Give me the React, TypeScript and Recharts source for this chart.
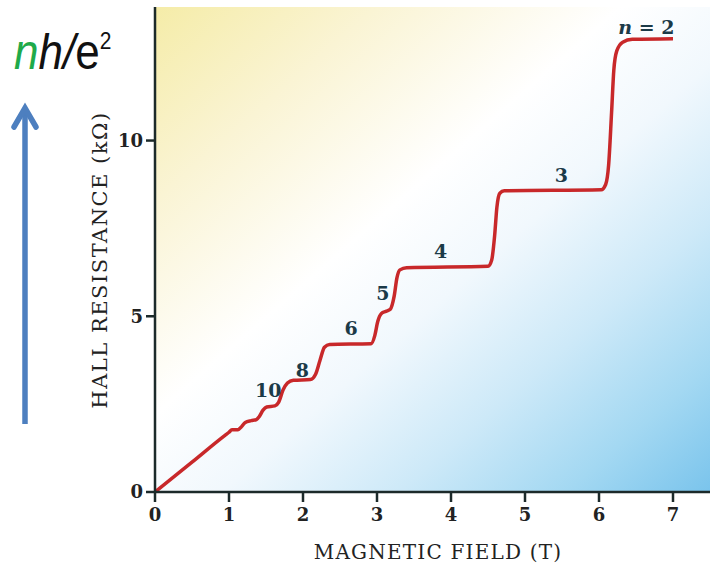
import React from 'react'
import {
  ComposedChart,
  Line,
  Scatter,
  XAxis,
  YAxis,
  ReferenceArea
} from 'recharts'

// Hall resistance (kΩ) against magnetic field (T)
const fieldT = [
  0, 0.5, 0.95, 1.0, 1.04, 1.08, 1.12, 1.17, 1.22, 1.3, 1.37, 1.41, 1.46, 1.51, 1.62, 1.67, 1.73, 1.79,
  1.87, 2.1, 2.17, 2.23, 2.29, 2.36, 2.92, 2.97, 3.01, 3.06, 3.12, 3.18, 3.23, 3.27, 3.31,
  3.4, 4.5, 4.55, 4.59, 4.62, 4.66, 4.72, 6.03, 6.09, 6.13, 6.17, 6.2, 6.24, 6.32, 6.45, 7.0
]
const hallKOhm = [
  0, 0.85, 1.62, 1.7, 1.77, 1.77, 1.77, 1.86, 1.98, 2.03, 2.06, 2.15, 2.33, 2.42, 2.45, 2.55, 2.9, 3.1,
  3.18, 3.2, 3.35, 3.75, 4.12, 4.2, 4.22, 4.45, 4.85, 5.08, 5.14, 5.2, 5.55, 6.1, 6.32,
  6.38, 6.42, 6.6, 7.3, 8.1, 8.5, 8.57, 8.6, 8.75, 9.3, 10.8, 12.0, 12.55, 12.8, 12.88, 12.9
]

// plateau labels (filling factor n)
const plateauNames = ['10', '8', '6', '5', '4', '3', 'n = 2']
const plateauB = [1.53, 1.99, 2.65, 3.08, 3.86, 5.49, 6.64]
const plateauR = [2.9, 3.48, 4.68, 5.67, 6.87, 9.02, 13.22]

const xTicks = [0, 1, 2, 3, 4, 5, 6, 7]
const yTicks = [0, 5, 10]

const curve = fieldT.map((b, i) => ({ b, r: hallKOhm[i] }))
const plateaus = plateauNames.map((name, i) => ({ b: plateauB[i], r: plateauR[i], name }))

const axisColor = '#1c2a2a'
const tickFont = { fontFamily: '"DejaVu Serif", serif', fontWeight: 700, fontSize: 18, fill: '#222' }

const PlateauLabel = (props: any) => {
  const { cx, cy, payload } = props
  const isTop = payload.name.startsWith('n')
  return (
    <text x={cx} y={cy} textAnchor="middle" dominantBaseline="central"
      fontFamily='"DejaVu Serif", serif' fontWeight={700} fontSize={19} fill="#1b3a48">
      {isTop ? (
        <>
          <tspan fontStyle="italic">n</tspan> = 2
        </>
      ) : payload.name}
    </text>
  )
}

const App: React.FC = () => {
  return (
    <div style={{ position: 'absolute', left: 0, top: 0, width: 721, height: 569, background: '#fff' }}>
      <ComposedChart width={721} height={569} margin={{ top: 7, right: 11, bottom: 17, left: 115 }}>
        <defs>
          <linearGradient id="bg" x1="0" y1="0" x2="1" y2="1">
            <stop offset="0" stopColor="#f5eca8" />
            <stop offset="0.2" stopColor="#faf4d4" />
            <stop offset="0.42" stopColor="#ffffff" />
            <stop offset="0.56" stopColor="#f1f8fd" />
            <stop offset="0.72" stopColor="#cde9f8" />
            <stop offset="0.87" stopColor="#a3d8f2" />
            <stop offset="1" stopColor="#7ac4ec" />
          </linearGradient>
        </defs>
        <ReferenceArea x1={0} x2={7.5} y1={0} y2={13.8} fill="url(#bg)" fillOpacity={1} stroke="none" />
        <XAxis
          type="number"
          dataKey="b"
          domain={[0, 7.5]}
          ticks={xTicks}
          allowDataOverflow
          height={60}
          tickSize={10}
          tickMargin={6}
          axisLine={{ stroke: axisColor, strokeWidth: 2.5 }}
          tickLine={{ stroke: axisColor, strokeWidth: 2.5 }}
          tick={tickFont}
        />
        <YAxis
          type="number"
          domain={[0, 13.8]}
          ticks={yTicks}
          allowDataOverflow
          width={40}
          tickSize={9}
          tickMargin={3}
          axisLine={{ stroke: axisColor, strokeWidth: 2.5 }}
          tickLine={{ stroke: axisColor, strokeWidth: 2.5 }}
          tick={tickFont}
        />
        <Line
          data={curve}
          dataKey="r"
          type="monotone"
          stroke="#c8282a"
          strokeWidth={3.5}
          dot={false}
          isAnimationActive={false}
        />
        <Scatter data={plateaus} dataKey="r" shape={PlateauLabel} isAnimationActive={false} />
      </ComposedChart>

      <div style={{
        position: 'absolute', left: 438, top: 552, transform: 'translate(-50%, -50%)',
        fontFamily: '"DejaVu Serif", serif', fontSize: 20, letterSpacing: 1.2, color: '#222', whiteSpace: 'nowrap'
      }}>
        MAGNETIC FIELD (T)
      </div>
      <div style={{
        position: 'absolute', left: 100, top: 260, transform: 'translate(-50%, -50%) rotate(-90deg)',
        fontFamily: '"DejaVu Serif", serif', fontSize: 21, letterSpacing: 1.5, color: '#222', whiteSpace: 'nowrap'
      }}>
        HALL RESISTANCE (kΩ)
      </div>

      <div style={{
        position: 'absolute', left: 14, top: 17, transform: 'scaleY(1.12)', transformOrigin: 'left top',
        fontFamily: '"Liberation Sans", Arial, sans-serif', fontSize: 44, lineHeight: '44px', color: '#111', whiteSpace: 'nowrap'
      }}>
        <span style={{ fontStyle: 'italic', color: '#1faa4a' }}>n</span>
        <span style={{ fontStyle: 'italic' }}>h/</span>
        <span>e</span>
        <span style={{ fontSize: 21, verticalAlign: '17px' }}>2</span>
      </div>

      <svg style={{ position: 'absolute', left: 0, top: 0 }} width={60} height={440}>
        <line x1={25} y1={424} x2={25} y2={108} stroke="#4d7fbf" strokeWidth={5.5} />
        <polyline points="14,127 25,108 36,127" fill="none" stroke="#4d7fbf" strokeWidth={5.5}
          strokeLinecap="round" strokeLinejoin="miter" />
      </svg>
    </div>
  )
}

export default App
